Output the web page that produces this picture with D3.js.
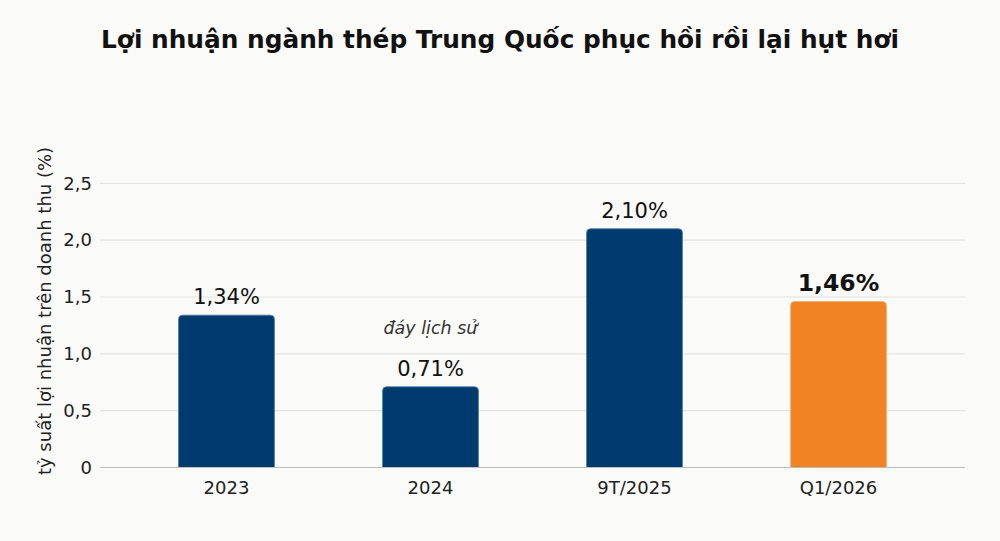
<!DOCTYPE html>
<html>
<head>
<meta charset="utf-8">
<script src="https://cdn.jsdelivr.net/npm/d3@7"></script>
<style>
  body { margin: 0; background: #fafaf8; }
  svg { display: block; font-family: "DejaVu Sans", sans-serif; }
</style>
</head>
<body>
<svg id="chart" width="1000" height="541"></svg>
<script>
// data
const categories = ["2023", "2024", "9T/2025", "Q1/2026"];
const values = [1.34, 0.71, 2.10, 1.46];
const valueLabels = ["1,34%", "0,71%", "2,10%", "1,46%"];
const yTicks = [0, 0.5, 1.0, 1.5, 2.0, 2.5];
const yTickLabels = ["0", "0,5", "1,0", "1,5", "2,0", "2,5"];

const svg = d3.select("#chart");

svg.append("rect").attr("width", 1000).attr("height", 541).attr("fill", "#fafaf8");

// title
svg.append("text")
  .attr("x", 500).attr("y", 48)
  .attr("text-anchor", "middle")
  .attr("font-size", 24.8).attr("font-weight", "bold")
  .attr("fill", "#111")
  .text("Lợi nhuận ngành thép Trung Quốc phục hồi rồi lại hụt hơi");

const x = d3.scaleBand().domain(categories).range([100, 965])
  .paddingInner(0.53).paddingOuter(0.385);
const y = d3.scaleLinear().domain([0, 2.5]).range([467.5, 183.3]);

// gridlines
svg.append("g").selectAll("line")
  .data(yTicks.slice(1))
  .join("line")
  .attr("x1", 100).attr("x2", 965)
  .attr("y1", d => y(d)).attr("y2", d => y(d))
  .attr("stroke", "#e4e4e4").attr("stroke-width", 1.2);

// y tick labels
svg.append("g").selectAll("text")
  .data(yTicks)
  .join("text")
  .attr("x", 92).attr("y", (d) => y(d))
  .attr("dy", "0.35em")
  .attr("text-anchor", "end")
  .attr("font-size", 18).attr("fill", "#222")
  .text((d, i) => yTickLabels[i]);

// y axis title
svg.append("text")
  .attr("transform", "translate(51,311) rotate(-90)")
  .attr("text-anchor", "middle")
  .attr("font-size", 18).attr("fill", "#222")
  .text("tỷ suất lợi nhuận trên doanh thu (%)");

// bars
const r = 4;
svg.append("g").selectAll("path")
  .data(values)
  .join("path")
  .attr("d", (d, i) => {
    const x0 = x(categories[i]), w = x.bandwidth();
    const top = y(d), bot = y(0);
    return `M${x0},${bot} V${top + r} Q${x0},${top} ${x0 + r},${top} H${x0 + w - r} Q${x0 + w},${top} ${x0 + w},${top + r} V${bot} Z`;
  })
  .attr("fill", (d, i) => i === 3 ? "#f28325" : "#003a6e")
  .attr("stroke", (d, i) => i === 3 ? "#f8b070" : "#4a7aa8")
  .attr("stroke-width", 0.8);

// bottom axis line
svg.append("line")
  .attr("x1", 100).attr("x2", 965)
  .attr("y1", y(0)).attr("y2", y(0))
  .attr("stroke", "#bdbdbd").attr("stroke-width", 1.2);

// x tick labels
svg.append("g").selectAll("text")
  .data(categories)
  .join("text")
  .attr("x", d => x(d) + x.bandwidth() / 2)
  .attr("y", 494)
  .attr("text-anchor", "middle")
  .attr("font-size", 18).attr("fill", "#222")
  .text(d => d);

// value labels
svg.append("g").selectAll("text")
  .data(values)
  .join("text")
  .attr("x", (d, i) => x(categories[i]) + x.bandwidth() / 2)
  .attr("y", d => y(d) - 11)
  .attr("text-anchor", "middle")
  .attr("font-size", (d, i) => i === 3 ? 23.5 : 21)
  .attr("font-weight", (d, i) => i === 3 ? "bold" : "normal")
  .attr("fill", "#111")
  .text((d, i) => valueLabels[i]);

// annotation
svg.append("text")
  .attr("x", x("2024") + x.bandwidth() / 2)
  .attr("y", 334)
  .attr("text-anchor", "middle")
  .attr("font-size", 17.5).attr("font-style", "italic")
  .attr("fill", "#333")
  .text("đáy lịch sử");
</script>
</body>
</html>
